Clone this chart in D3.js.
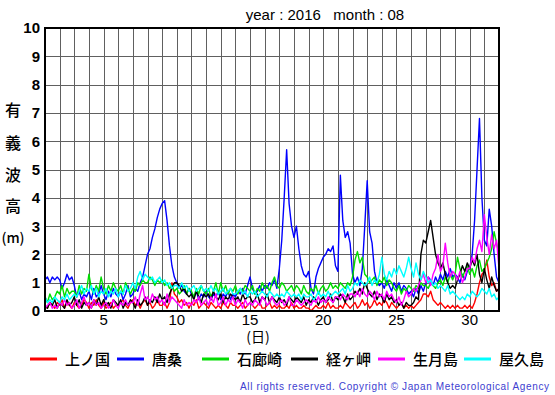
<!DOCTYPE html>
<html><head><meta charset="utf-8">
<script src="https://cdn.jsdelivr.net/npm/d3@7"></script>
<style>body{margin:0;background:#fff}svg{display:block}</style>
</head><body>
<svg id="c" width="555" height="395"></svg>
<script>
// ---- data (values every 4 hours from Aug 1 00:00, last point = Sep 1 00:00) ----
const seriesNames = ["上ノ国","唐桑","石廊崎","経ヶ岬","生月島","屋久島"];
const seriesColors = ["#ff0000","#0000ff","#00dd00","#000000","#ff00ff","#00ffff"];
const xTickLabels = [5,10,15,20,25,30];
const yTickLabels = [0,1,2,3,4,5,6,7,8,9,10];
const stepsPerDay = 6;

const kaminokuni = [
0.2,0.1,0.3,0.2,0.1,0.3, 0.2,0.4,0.1,0.3,0.2,0.1, 0.3,0.2,0.1,0.2,0.4,0.3, 0.1,0.3,0.2,0.4,0.2,0.1,
0.3,0.1,0.2,0.3,0.1,0.2, 0.2,0.3,0.4,0.2,0.1,0.3, 0.4,0.2,0.3,0.1,0.3,0.4, 0.2,0.3,0.1,0.2,0.4,0.2,
0.2,0.3,0.1,0.3,1.0,0.6, 0.5,0.3,0.4,0.2,0.3,0.1, 0.3,0.2,0.4,0.1,0.2,0.3, 0.2,0.1,0.3,0.2,0.1,0.2,
0.1,0.3,0.2,0.1,0.3,0.2, 0.2,0.1,0.2,0.3,0.1,0.2, 0.3,0.2,0.1,0.2,0.3,0.1, 0.1,0.2,0.3,0.1,0.2,0.1,
0.2,0.1,0.1,0.2,0.1,0.3, 0.1,0.2,0.1,0.1,0.2,0.1, 0.1,0.0,0.1,0.2,0.1,0.1, 0.2,0.1,0.3,0.1,0.2,0.1,
0.1,0.2,0.1,0.3,0.2,0.1, 0.2,0.3,0.1,0.2,0.4,0.2, 0.3,0.1,0.2,0.4,0.2,0.3, 0.2,0.4,0.3,0.1,0.3,0.2,
0.1,0.2,0.3,0.1,0.2,0.1, 0.2,0.1,0.2,0.3,0.4,0.6, 0.6,0.5,0.7,0.4,0.3,0.2, 0.3,0.2,0.1,0.2,0.1,0.2,
0.1,0.2,0.1,0.1,0.2,0.1, 0.2,0.1,0.3,0.6,1.0,1.3, 1.4,1.8,1.2,0.9,1.0,0.7, 0.8];

const karakuwa = [
1.1,1.2,1.0,1.2,1.1,1.2, 1.1,0.8,1.0,1.3,1.1,1.2, 0.9,0.5,0.7,0.4,0.6,0.5, 0.7,0.4,0.8,0.5,0.6,0.9,
0.6,0.4,0.7,0.5,0.8,0.6, 0.5,0.7,0.4,0.6,0.9,0.5, 0.6,0.8,0.7,1.0,1.2,1.6, 2.0,2.2,2.6,2.9,3.3,3.6,
3.8,3.9,3.2,2.3,1.6,1.2, 1.0,0.8,0.9,0.7,0.6,0.8, 0.6,0.5,0.7,0.4,0.6,0.5, 0.7,0.5,0.4,0.6,0.5,0.7,
0.4,0.6,0.5,0.7,0.4,0.6, 0.5,0.7,0.6,0.8,0.6,0.9, 1.2,0.8,0.6,0.7,0.9,0.7, 0.9,0.8,1.0,0.9,1.1,0.8,
1.5,2.5,4.0,5.7,3.8,3.0, 2.6,3.0,2.2,1.6,1.3,1.2, 1.4,0.8,0.6,1.2,1.5,1.7, 1.9,2.0,2.2,2.1,2.3,1.6,
1.4,4.8,3.2,2.6,2.8,2.4, 1.3,1.0,1.2,0.9,1.5,3.0, 4.6,2.8,2.4,1.4,1.0,0.9, 1.0,0.8,1.1,0.9,0.7,1.0,
0.8,1.0,0.7,0.9,0.8,0.6, 0.7,0.5,0.8,0.6,0.9,0.7, 1.0,1.2,1.1,0.9,1.2,1.0, 1.3,1.1,1.4,1.2,1.5,1.2,
1.3,1.2,1.0,1.3,1.1,1.4, 1.5,2.0,3.2,5.0,6.8,4.0, 2.5,2.3,3.6,3.0,2.0,1.2, 1.0];

const irozaki = [
0.5,0.3,0.6,0.4,0.5,0.7, 0.6,0.9,0.5,0.8,0.6,0.7, 0.7,0.5,0.9,0.6,0.8,0.7, 1.3,0.8,0.6,0.9,0.7,1.2,
0.8,0.6,0.9,0.7,1.0,0.8, 0.7,0.9,0.6,1.0,0.8,0.6, 0.8,0.7,1.0,0.9,1.1,1.0, 1.0,1.2,1.1,0.9,1.1,1.0,
1.1,0.9,1.0,0.8,0.9,0.7, 0.8,0.6,0.7,0.9,0.6,0.8, 0.7,0.5,0.8,0.6,0.9,0.7, 0.6,0.8,0.5,0.7,1.0,0.6,
1.0,0.7,0.9,0.6,0.8,0.7, 0.9,0.6,0.8,0.7,0.9,0.8, 0.7,0.9,0.6,0.8,0.7,1.0, 0.8,0.9,0.7,1.0,1.2,0.9,
0.8,1.0,0.9,0.7,0.8,0.9, 0.7,0.9,0.8,0.6,0.9,0.7, 0.6,0.8,0.7,0.9,0.6,0.8, 0.9,0.7,0.8,1.0,0.8,0.9,
0.8,1.0,0.9,0.8,1.0,0.9, 1.2,1.8,2.1,1.7,1.9,1.3, 1.2,1.0,1.1,1.2,0.9,1.1, 1.0,1.2,0.9,1.1,1.0,0.8,
0.7,0.9,0.6,0.8,0.7,0.9, 0.8,0.7,0.9,0.8,1.0,0.9, 0.9,0.8,1.0,0.9,0.8,1.0, 1.1,0.9,1.2,1.0,1.3,1.1,
1.3,1.9,1.5,1.2,1.4,1.6, 1.3,1.5,1.2,1.6,1.8,1.4, 1.5,1.7,1.9,2.2,2.8,2.4, 2.0];

const kyogamisaki = [
0.2,0.1,0.3,0.2,0.4,0.1, 0.3,0.2,0.1,0.4,0.2,0.3, 0.5,0.2,0.4,0.1,0.3,0.2, 0.3,0.1,0.4,0.2,0.5,0.2,
0.4,0.2,0.3,0.1,0.4,0.3, 0.2,0.4,0.1,0.3,0.2,0.4, 0.3,0.1,0.4,0.2,0.3,0.5, 0.2,0.4,0.3,0.5,0.3,0.6,
0.4,0.5,0.3,0.6,0.8,1.0, 1.0,0.9,0.7,0.8,0.6,0.5, 0.6,0.4,0.7,0.5,0.3,0.6, 0.5,0.6,0.4,0.7,0.5,0.4,
0.6,0.3,0.5,0.4,0.6,0.5, 0.4,0.5,0.3,0.6,0.4,0.5, 0.5,0.3,0.4,0.6,0.3,0.5, 0.4,0.6,0.3,0.5,0.4,0.3,
0.5,0.3,0.4,0.2,0.5,0.4, 0.3,0.5,0.4,0.3,0.5,0.2, 0.4,0.3,0.5,0.4,0.2,0.4, 0.5,0.3,0.4,0.6,0.3,0.5,
0.4,0.6,0.5,0.3,0.6,0.4, 0.5,0.7,0.6,0.8,0.6,1.0, 0.8,0.6,0.5,0.7,0.4,0.6, 0.5,0.3,0.6,0.4,0.5,0.3,
0.4,0.2,0.3,0.1,0.3,0.2, 0.2,0.3,0.5,0.4,2.0,2.5, 2.4,2.8,3.2,2.6,2.0,1.7, 1.5,1.7,1.3,1.0,0.8,0.9,
0.8,1.1,1.3,1.6,1.4,1.7, 1.5,1.8,1.6,2.0,1.3,1.0, 1.5,1.1,0.8,1.2,0.9,0.7, 0.8];

const ikitsukishima = [
0.1,0.2,0.3,0.1,0.2,0.1, 0.3,0.2,0.4,0.2,0.3,0.1, 0.2,0.4,0.1,0.3,0.5,0.2, 0.3,0.1,0.4,0.2,0.3,0.1,
0.2,0.3,0.1,0.2,0.4,0.2, 0.1,0.3,0.2,0.4,0.2,0.3, 0.3,0.5,0.2,0.6,0.9,0.4, 0.5,0.3,0.6,0.4,0.5,0.3,
0.4,0.2,0.6,0.3,0.5,0.4, 0.3,0.2,0.1,0.4,0.2,0.3, 0.2,0.4,0.3,0.5,0.2,0.3, 0.4,0.2,0.5,0.3,0.6,0.2,
0.3,0.5,0.2,0.4,0.3,0.5, 0.2,0.4,0.3,0.1,0.4,0.2, 0.3,0.2,0.4,0.3,0.2,0.5, 0.4,0.2,0.3,0.5,0.3,0.2,
0.3,0.4,0.2,0.3,0.5,0.2, 0.2,0.4,0.3,0.2,0.3,0.4, 0.3,0.2,0.4,0.3,0.5,0.3, 0.4,0.3,0.5,0.4,0.3,0.5,
0.5,0.4,0.6,0.5,0.4,0.6, 0.6,0.5,0.7,0.5,0.8,0.6, 0.5,0.7,0.6,0.4,0.7,0.5, 0.6,0.4,0.7,0.5,0.6,0.4,
0.3,0.5,0.2,0.4,0.7,0.5, 0.6,0.8,0.7,0.9,1.1,1.3, 1.0,1.2,0.9,1.3,1.5,2.0, 1.4,1.6,2.4,1.7,1.2,1.4,
1.3,1.1,1.4,1.0,1.2,1.5, 1.5,1.9,1.7,2.2,2.5,2.1, 3.4,2.6,2.0,2.7,2.2,2.5, 1.5];

const yakushima = [
0.5,0.3,0.4,0.3,0.5,0.4, 0.3,0.5,0.4,0.6,0.4,0.5, 0.6,0.5,0.7,0.9,0.6,0.8, 0.7,0.9,0.6,0.8,0.5,0.7,
0.6,0.8,0.5,0.7,0.6,0.8, 0.5,0.7,0.6,0.9,0.7,0.8, 1.0,0.8,1.2,1.4,1.1,1.3, 1.2,1.1,1.2,1.0,1.1,1.2,
1.0,1.1,0.9,1.0,0.8,0.9, 0.9,0.8,1.0,0.8,0.9,0.7, 0.8,0.9,0.7,0.8,0.9,0.7, 0.8,0.7,0.9,0.7,0.8,0.6,
0.7,0.8,0.6,0.7,0.8,0.6, 0.6,0.7,0.8,0.6,0.7,0.5, 0.7,0.6,0.7,0.5,0.6,0.7, 0.6,0.5,0.7,0.6,0.5,0.6,
0.5,0.6,0.5,0.7,0.6,0.5, 0.6,0.5,0.6,0.4,0.6,0.5, 0.5,0.6,0.4,0.5,0.7,0.5, 0.6,0.5,0.7,0.5,0.6,0.7,
0.6,0.7,0.8,0.6,0.9,0.7, 0.8,1.0,0.9,1.1,1.0,0.9, 1.0,1.2,0.9,1.1,1.0,1.3, 1.9,1.3,1.1,1.4,1.2,1.5,
1.3,1.6,1.4,1.2,1.5,1.9, 1.5,1.2,1.7,1.3,1.1,1.4, 1.2,1.0,1.1,0.9,1.0,0.8, 0.9,0.8,0.7,0.9,0.6,0.7,
0.6,0.5,0.4,0.5,0.4,0.6, 0.5,0.7,0.6,0.5,0.6,0.8, 0.7,0.6,0.8,0.5,0.6,0.4, 0.5];

const seriesValues = [kaminokuni, karakuwa, irozaki, kyogamisaki, ikitsukishima, yakushima];

// ---- drawing ----
const svg = d3.select("#c");
const L = 45, R = 499, T = 28, B = 311;
const x = d3.scaleLinear().domain([1, 32]).range([L, R]);
const y = d3.scaleLinear().domain([0, 10]).range([B, T]);
const FONT = "'Liberation Sans', Arial, sans-serif";
const JFONT = "'Noto Sans CJK JP', sans-serif";

svg.append("text").attr("x", 325).attr("y", 20).attr("text-anchor", "middle")
  .attr("font-family", FONT).attr("font-size", 15).attr("xml:space","preserve")
  .text("year : 2016   month : 08");

// grid
const g = svg.append("g");
g.selectAll("line.v").data(d3.range(2, 32)).join("line")
  .attr("x1", d => Math.round(x(d)) + 0.5).attr("x2", d => Math.round(x(d)) + 0.5)
  .attr("y1", T).attr("y2", B).attr("stroke", "#606060").attr("stroke-width", 1);
g.selectAll("line.h").data(d3.range(1, 10)).join("line")
  .attr("y1", d => Math.round(y(d)) + 0.5).attr("y2", d => Math.round(y(d)) + 0.5)
  .attr("x1", L).attr("x2", R).attr("stroke", "#606060").attr("stroke-width", 1);

// series
svg.append("clipPath").attr("id", "clip").append("rect")
  .attr("x", L).attr("y", T).attr("width", R - L).attr("height", B - T);
const line = d3.line().x((d, i) => x(1 + i / stepsPerDay)).y(d => y(d));
const lg = svg.append("g").attr("clip-path", "url(#clip)");
seriesValues.forEach((vals, k) => {
  lg.append("path").attr("d", line(vals)).attr("fill", "none")
    .attr("stroke", seriesColors[k]).attr("stroke-width", 1.4).attr("stroke-linejoin", "round");
});

// frame
svg.append("rect").attr("x", L).attr("y", T).attr("width", R - L).attr("height", B - T)
  .attr("fill", "none").attr("stroke", "#000").attr("stroke-width", 2);

// y tick labels
svg.selectAll("text.yt").data(yTickLabels).join("text")
  .attr("x", 40).attr("y", d => y(d)).attr("dy", "0.36em").attr("text-anchor", "end")
  .attr("font-family", FONT).attr("font-weight", "bold").attr("font-size", 15)
  .text(d => d);

// x tick labels
svg.selectAll("text.xt").data(xTickLabels).join("text")
  .attr("x", d => x(d)).attr("y", 325).attr("text-anchor", "middle")
  .attr("font-family", FONT).attr("font-size", 15).text(d => d);

// axis titles
svg.append("text").attr("x", 258).attr("y", 342).attr("text-anchor", "middle")
  .attr("font-family", JFONT).attr("font-size", 14).text("(日)");
const yTitle = ["有","義","波","高","(m)"];
const yTitleY = [110, 143, 175, 206, 238];
yTitle.forEach((c, i) => {
  svg.append("text").attr("x", 13).attr("y", yTitleY[i]).attr("dy", "0.35em")
    .attr("text-anchor", "middle").attr("font-family", JFONT).attr("font-weight", 500)
    .attr("font-size", i < 4 ? 16 : 14).text(c);
});

// legend
const legX = [30, 117, 202, 291, 378, 464];
seriesNames.forEach((n, k) => {
  svg.append("line").attr("x1", legX[k]).attr("x2", legX[k] + 27)
    .attr("y1", 359).attr("y2", 359).attr("stroke", seriesColors[k]).attr("stroke-width", 3);
  svg.append("text").attr("x", legX[k] + 35).attr("y", 365)
    .attr("font-family", JFONT).attr("font-size", 15).attr("font-weight", 500).text(n);
});

// copyright
svg.append("text").attr("x", 549).attr("y", 390).attr("text-anchor", "end")
  .attr("font-family", FONT).attr("font-size", 10).attr("fill", "#4040d0")
  .attr("textLength", 309).attr("lengthAdjust", "spacing")
  .text("All rights reserved. Copyright © Japan Meteorological Agency");
</script>
</body></html>
